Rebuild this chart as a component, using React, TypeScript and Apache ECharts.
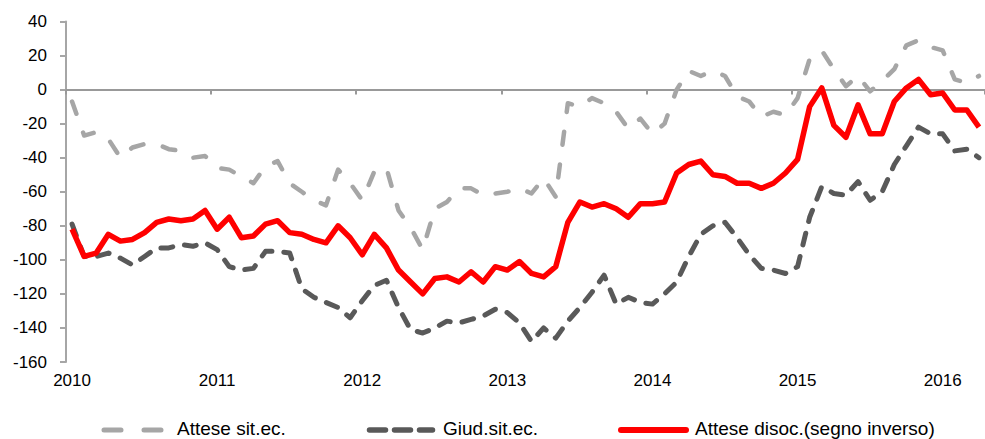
import { useEffect, useRef } from "react";
import * as echarts from "echarts";

const years = ["2010", "2011", "2012", "2013", "2014", "2015", "2016"];
const monthNumbers = ["01", "02", "03", "04", "05", "06", "07", "08", "09", "10", "11", "12"];
const monthCount = 76;
const categories = years.flatMap((y) => monthNumbers.map((m) => `${y}-${m}`)).slice(0, monthCount);

const seriesNames = ["Attese sit.ec.", "Giud.sit.ec.", "Attese disoc.(segno inverso)"];

const atteseSitEc = [
  -7, -27, -25, -29, -40, -34, -32, -32, -35, -36, -40, -39,
  -46, -47, -51, -55, -45, -42, -55, -60, -65, -68, -47, -55,
  -65, -48, -46, -71, -81, -94, -70, -66, -58, -58, -62, -61,
  -60, -58, -61, -52, -63, -8, -10, -5, -8, -13, -23, -17,
  -26, -20, 0, 11, 8, 11, 8, -4, -7, -16, -13, -15,
  -5, 18, 23, 12, 2, 8, -1, 5, 12, 26, 29, 25,
  23, 6, 4, 8,
];

const giudSitEc = [
  -79, -98, -98, -96, -99, -103, -98, -93, -93, -91, -92, -90,
  -94, -104, -106, -105, -95, -95, -96, -117, -122, -125, -128, -134,
  -124, -115, -112, -128, -141, -143, -140, -136, -137, -135, -133, -129,
  -131, -137, -148, -140, -146, -136, -128, -119, -109, -126, -122, -125,
  -126, -120, -113, -98, -85, -80, -78, -87, -97, -105, -106, -108,
  -104, -75, -57, -61, -62, -54, -65, -60, -44, -33, -22, -26,
  -26, -36, -35, -40,
];

const atteseDisoc = [
  -82, -98, -96, -85, -89, -88, -84, -78, -76, -77, -76, -71,
  -82, -75, -87, -86, -79, -77, -84, -85, -88, -90, -80, -87,
  -97, -85, -93, -106, -113, -120, -111, -110, -113, -107, -113, -104,
  -106, -101, -108, -110, -104, -78, -66, -69, -67, -70, -75, -67,
  -67, -66, -49, -44, -42, -50, -51, -55, -55, -58, -55, -49,
  -41, -10, 1, -21, -28, -9, -26, -26, -7, 1, 6, -3,
  -2, -12, -12, -22,
];

const yMin = -160;
const yMax = 40;
const yStep = 20;

const FONT = "Arial, 'Liberation Sans', sans-serif";
const LIGHT = "#a6a6a6";
const DARK = "#595959";
const RED = "#ff0000";

export default function App() {
  const ref = useRef<HTMLDivElement>(null);

  useEffect(() => {
    document.body.style.margin = "0";
    if (!ref.current) return;
    const chart = echarts.init(ref.current, null, { renderer: "svg" });
    const yearTick = (i: number) => i % 12 === 0;
    const legendY = 430;
    const legendText = (x: number, text: string) => ({
      type: "text",
      x,
      y: 428.5,
      style: {
        text,
        fontSize: 19,
        lineHeight: 19,
        fontFamily: FONT,
        fill: "#000",
        verticalAlign: "middle",
        align: "left",
      },
    });
    chart.setOption({
      animation: false,
      grid: { left: 66, right: 0, top: 21.5, bottom: 77, containLabel: false },
      xAxis: [
        {
          type: "category",
          data: categories,
          boundaryGap: true,
          position: "bottom",
          axisLine: { show: false, onZero: false },
          axisTick: { show: false },
          splitLine: { show: false },
          axisLabel: {
            interval: yearTick,
            formatter: (v: string) => v.slice(0, 4),
            margin: 10,
            fontSize: 17,
            color: "#000",
            fontFamily: FONT,
          },
        },
        {
          type: "category",
          data: categories,
          boundaryGap: true,
          position: "bottom",
          axisLine: { show: true, onZero: true, lineStyle: { color: "#999999", width: 2 } },
          axisTick: { show: true, interval: yearTick, length: 5, lineStyle: { color: "#999999", width: 2 } },
          axisLabel: { show: false },
          splitLine: { show: false },
        },
      ],
      yAxis: {
        type: "value",
        min: yMin,
        max: yMax,
        interval: yStep,
        axisLine: { show: true, lineStyle: { color: "#a6a6a6", width: 2 } },
        axisTick: { show: true, length: 6, lineStyle: { color: "#a6a6a6", width: 2 } },
        splitLine: { show: false },
        axisLabel: { margin: 19, fontSize: 17, color: "#000", fontFamily: FONT },
      },
      graphic: [
        {
          type: "line",
          shape: { x1: 104, y1: legendY, x2: 161, y2: legendY },
          style: { stroke: LIGHT, lineWidth: 5, lineDash: [17, 23], lineCap: "round" },
        },
        legendText(177, seriesNames[0]),
        {
          type: "line",
          shape: { x1: 369.5, y1: legendY, x2: 432.5, y2: legendY },
          style: { stroke: DARK, lineWidth: 5.5, lineDash: [16, 9], lineCap: "round" },
        },
        legendText(443, seriesNames[1]),
        {
          type: "line",
          shape: { x1: 621, y1: legendY, x2: 686, y2: legendY },
          style: { stroke: RED, lineWidth: 6, lineCap: "round" },
        },
        legendText(695, seriesNames[2]),
      ],
      series: [
        {
          name: seriesNames[0],
          type: "line",
          data: atteseSitEc,
          symbol: "none",
          itemStyle: { color: LIGHT },
          lineStyle: { color: LIGHT, width: 4.5, type: [13, 20], cap: "round", join: "round" },
        },
        {
          name: seriesNames[1],
          type: "line",
          data: giudSitEc,
          symbol: "none",
          itemStyle: { color: DARK },
          lineStyle: { color: DARK, width: 5, type: [12, 12], cap: "round", join: "round" },
        },
        {
          name: seriesNames[2],
          type: "line",
          data: atteseDisoc,
          symbol: "none",
          itemStyle: { color: RED },
          lineStyle: { color: RED, width: 5.5, type: "solid", join: "round" },
        },
      ],
    });
    return () => chart.dispose();
  }, []);

  return <div ref={ref} style={{ width: 985, height: 439 }} />;
}
